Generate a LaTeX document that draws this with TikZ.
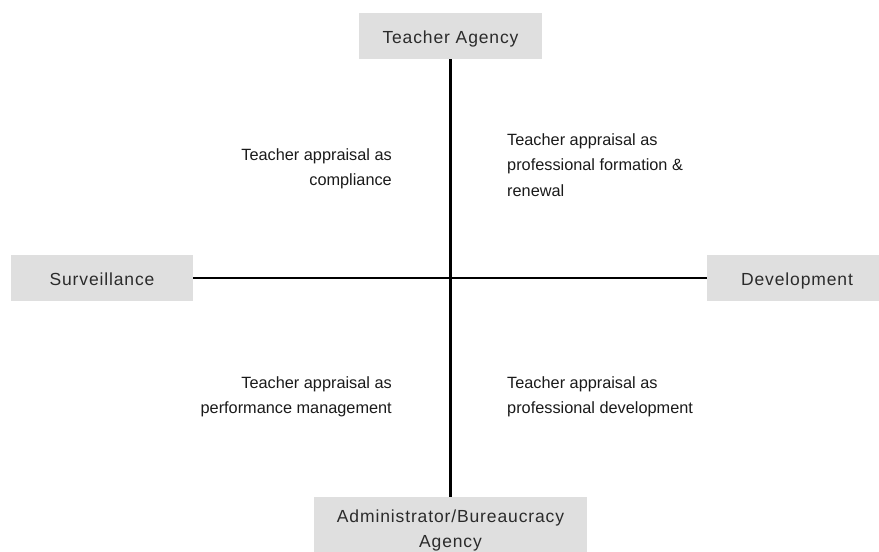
\documentclass[tikz,border=0pt]{standalone}
\usepackage{fontspec}
\setmainfont{Liberation Sans}
\newfontfamily\boxfont[LetterSpace=5]{Liberation Sans}
\definecolor{boxfill}{HTML}{DFDFDF}
\definecolor{boxtext}{HTML}{2B2B2B}
\definecolor{quadtext}{HTML}{1A1A1A}
\begin{document}
\begin{tikzpicture}[x=1pt,y=-1pt,
  agentbox/.style={fill=boxfill, draw=none, inner sep=0pt, align=center,
    text=boxtext, font=\boxfont\fontsize{17.5}{25}\selectfont},
  onebox/.style={agentbox, text height=15pt, text depth=0pt},
  quadleft/.style={inner sep=0pt, align=right, anchor=north east, text=quadtext,
    font=\fontsize{16.3}{25.5}\selectfont},
  quadright/.style={inner sep=0pt, align=left, anchor=north west, text=quadtext,
    font=\fontsize{16.3}{25.5}\selectfont},
  axis/.style={line width=2.8pt, black}]
\useasboundingbox (0,0) rectangle (879,552);
\node[onebox, minimum width=183pt, minimum height=46pt] (ta) at (450.5,36) {Teacher Agency};
\node[onebox, minimum width=182pt, minimum height=46pt] (sv) at (102,278) {Surveillance};
\node[onebox, minimum width=180pt, minimum height=46pt] (dv) at (797,278) {Development};
\node[agentbox, minimum width=273pt, minimum height=67pt] (aa) at (450.5,530.5) {Administrator/Bureaucracy\\Agency};
\draw[axis] (ta.south) -- (aa.north);
\draw[axis] (sv.east) -- (dv.west);
\node[quadleft] (ul) at (392,148) {Teacher appraisal as\\compliance};
\node[quadright] (ur) at (507,133) {Teacher appraisal as\\professional formation \&\\renewal};
\node[quadleft] (ll) at (392,376) {Teacher appraisal as\\performance management};
\node[quadright] (lr) at (507,376) {Teacher appraisal as\\professional development};
\end{tikzpicture}
\end{document}
